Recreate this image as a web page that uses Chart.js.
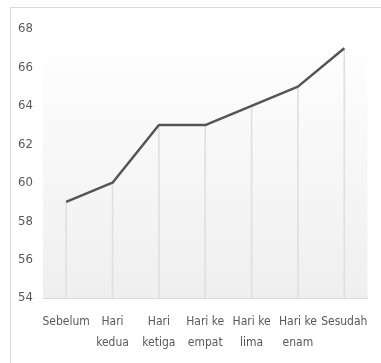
<!DOCTYPE html>
<html>
<head>
<meta charset="utf-8">
<script src="https://cdn.jsdelivr.net/npm/chart.js@4"></script>
<style>
html,body{margin:0;padding:0;background:#fff;}
#wrap{position:relative;width:381px;height:363px;}
</style>
</head>
<body>
<div id="wrap"><canvas id="c" width="381" height="363"></canvas></div>
<script>
const categories = [["Sebelum"], ["Hari", "kedua"], ["Hari", "ketiga"], ["Hari ke", "empat"], ["Hari ke", "lima"], ["Hari ke", "enam"], ["Sesudah"]];
const values = [59, 60, 63, 63, 64, 65, 67];
const yMin = 54, yMax = 68, yStep = 2;

const FONT = "'DejaVu Sans Condensed', 'DejaVu Sans', sans-serif";

const framePlugin = {
  id: 'frame',
  beforeDraw(chart) {
    const ctx = chart.ctx, a = chart.chartArea;
    ctx.save();
    ctx.fillStyle = '#fff';
    ctx.fillRect(0, 0, chart.width, chart.height);
    ctx.strokeStyle = '#d9d9d9';
    ctx.lineWidth = 1;
    ctx.beginPath();
    ctx.moveTo(10.5, chart.height);
    ctx.lineTo(10.5, 7.5);
    ctx.lineTo(chart.width, 7.5);
    ctx.stroke();
    const g = ctx.createLinearGradient(0, a.top, 0, a.bottom);
    g.addColorStop(0, '#ffffff');
    g.addColorStop(1, '#efefef');
    ctx.fillStyle = g;
    ctx.fillRect(a.left, a.top, a.right - a.left, a.bottom - a.top);
    ctx.restore();
  }
};

new Chart(document.getElementById('c'), {
  data: {
    labels: categories,
    datasets: [
      { type: 'line', data: values, borderColor: '#555555', borderWidth: 2.5, pointRadius: 0, tension: 0, order: 0, borderJoinStyle: 'round' },
      { type: 'bar', data: values, backgroundColor: '#e0e0e0', barThickness: 1, order: 1 }
    ]
  },
  options: {
    responsive: false,
    animation: false,
    events: [],
    layout: { padding: { left: 10, right: 8, top: 29, bottom: 0 } },
    plugins: { legend: { display: false }, tooltip: { enabled: false } },
    scales: {
      x: {
        offset: true,
        grid: { display: false, drawTicks: false },
        border: { display: true, color: '#d9d9d9', width: 1 },
        ticks: { color: '#595959', font: { family: FONT, size: 12, lineHeight: 1.75 }, padding: 13, maxRotation: 0, autoSkip: false },
        afterFit(s) { s.height = 65; }
      },
      y: {
        min: yMin, max: yMax,
        grid: { display: false, drawTicks: false },
        border: { display: false },
        ticks: { stepSize: yStep, color: '#595959', font: { family: FONT, size: 13 }, padding: 10 },
        afterFit(s) { s.width = 33; }
      }
    }
  },
  plugins: [framePlugin]
});
</script>
</body>
</html>
